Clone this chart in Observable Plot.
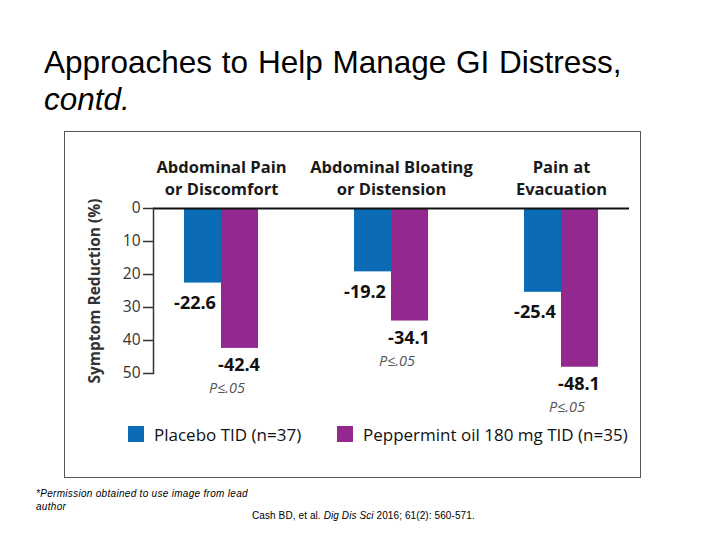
<!DOCTYPE html>
<html>
<head>
<meta charset="utf-8">
<script src="https://cdn.jsdelivr.net/npm/d3@7"></script>
<script src="https://cdn.jsdelivr.net/npm/@observablehq/plot@0.6"></script>
<style>
  html, body { margin: 0; padding: 0; background: #fff; }
  body { width: 720px; height: 540px; position: relative; overflow: hidden; font-family: "Liberation Sans", Arial, sans-serif; }
  #title { position: absolute; left: 44px; top: 44px; font-size: 31.5px; word-spacing: 1px; line-height: 37px; color: #000; white-space: nowrap; }
  #box { position: absolute; left: 64px; top: 131px; width: 577px; height: 347px; box-sizing: border-box; border: 1px solid #555; }
  #chart { position: absolute; left: 0; top: 0; }
  #legend { position: absolute; left: 0; top: 0; width: 100%; font-family: "Open Sans", sans-serif; font-size: 17px; color: #111; }
  .item { position: absolute; top: 291px; display: flex; align-items: center; white-space: nowrap; height: 22px; }
  .sw { width: 16px; height: 16px; margin-right: 10px; }
  .foot { position: absolute; font-size: 10px; line-height: 13px; color: #000; white-space: nowrap; }
</style>
</head>
<body>
<div id="title">Approaches to Help Manage GI Distress,<br><i>contd.</i></div>
<div id="box">
  <div id="chart"></div>
  <div id="legend"></div>
</div>
<div class="foot" style="left:36px; top:487px; letter-spacing:0.3px;"><i>*Permission obtained to use image from lead<br>author</i></div>
<div class="foot" style="left:252px; top:509px; letter-spacing:0.1px;">Cash BD, et al. <i>Dig Dis Sci</i> 2016; 61(2): 560-571.</div>
<script>
// ---- data ----
const categories = ["Abdominal Pain\nor Discomfort", "Abdominal Bloating\nor Distension", "Pain at\nEvacuation"];
const seriesNames = ["Placebo TID (n=37)", "Peppermint oil 180 mg TID (n=35)"];
const placeboValues = [-22.6, -19.2, -25.4];
const peppermintValues = [-42.4, -34.1, -48.1];
const peppermintNotes = ["P≤.05", "P≤.05", "P≤.05"];
const yTicks = [0, -10, -20, -30, -40, -50];
const seriesColors = ["#0b6cb5", "#93298e"];

// ---- layout ----
const W = 575, H = 290, ML = 88, MR = 11, MT = 76, MB = 49;
const padInner = 0.2, padOuter = 0;
const step = (W - ML - MR) / (categories.length - padInner + 2 * padOuter);
const bandwidth = step * (1 - padInner);
const barW = 37;
const inset = (bandwidth - barW) / 2;

const placebo = categories.map((c, i) => ({category: c, value: placeboValues[i], label: placeboValues[i].toFixed(1)}));
const peppermint = categories.map((c, i) => ({category: c, value: peppermintValues[i], label: peppermintValues[i].toFixed(1), note: peppermintNotes[i]}));

const font = "'Open Sans', sans-serif";

const chart = Plot.plot({
  width: W, height: H,
  marginLeft: ML, marginRight: MR, marginTop: MT, marginBottom: MB,
  style: {fontFamily: font, background: "transparent", overflow: "visible"},
  x: {domain: categories, paddingInner: padInner, paddingOuter: padOuter, axis: null},
  y: {domain: [-50, 0], axis: null},
  marks: [
    Plot.barY(placebo, {x: "category", y: "value", fill: seriesColors[0], insetLeft: inset, insetRight: inset, dx: -barW / 2}),
    Plot.barY(peppermint, {x: "category", y: "value", fill: seriesColors[1], insetLeft: inset, insetRight: inset, dx: barW / 2}),
    Plot.ruleY([0], {stroke: "#111", strokeWidth: 2}),
    Plot.frame({anchor: "left", stroke: "#333", strokeWidth: 1.5}),
    Plot.axisY({ticks: yTicks, tickFormat: d => Math.abs(d), tickSize: 10, tickPadding: 3, fontSize: 15.5, color: "#333", stroke: "#333", strokeWidth: 1.5, label: null}),
    Plot.axisX({anchor: "top", tickSize: 0, tickPadding: 14, fontSize: 16.5, fontWeight: "bold", lineHeight: 1.3, fill: "#1a1a1a", label: null}),
    Plot.text(["Symptom Reduction (%)"], {frameAnchor: "left", textAnchor: "middle", rotate: -90, dx: -58, fontSize: 15.5, fontWeight: "bold", fill: "#333"}),
    Plot.text(placebo, {x: "category", y: "value", text: "label", dx: -barW / 2 - 8, dy: 20, fontSize: 18, fontWeight: "bold", fill: "#111"}),
    Plot.text(peppermint, {x: "category", y: "value", text: "label", dx: barW / 2 - 1, dy: 17, fontSize: 18, fontWeight: "bold", fill: "#111"}),
    Plot.text(peppermint, {x: "category", y: "value", text: "note", dx: barW / 2 - 13, dy: 40, fontSize: 14.5, fontStyle: "italic", fill: "#555"})
  ]
});
document.getElementById("chart").appendChild(chart);

// ---- legend ----
const legendLefts = [63, 272];
const legend = document.getElementById("legend");
seriesNames.forEach((name, i) => {
  const item = document.createElement("div");
  item.className = "item";
  item.style.left = legendLefts[i] + "px";
  const sw = document.createElement("div");
  sw.className = "sw";
  sw.style.background = seriesColors[i];
  const t = document.createElement("span");
  t.textContent = name;
  item.appendChild(sw);
  item.appendChild(t);
  legend.appendChild(item);
});
</script>
</body>
</html>
